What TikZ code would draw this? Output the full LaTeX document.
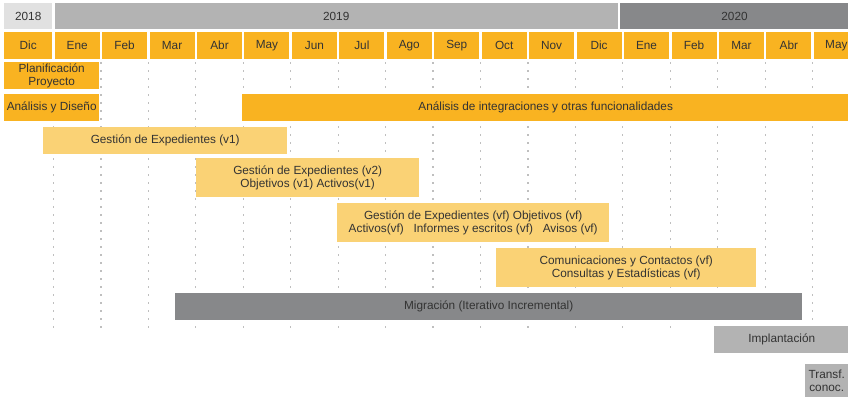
\documentclass[tikz,border=0pt]{standalone}
\usepackage{fontspec}
\setmainfont{Liberation Sans}
\usetikzlibrary{positioning}

\definecolor{naranja}{HTML}{F9B321}
\definecolor{naranjaclaro}{HTML}{FAD275}
\definecolor{grisoscuro}{HTML}{87888A}
\definecolor{grismedio}{HTML}{B3B3B3}
\definecolor{grisclaro}{HTML}{E1E1E1}
\definecolor{texto}{HTML}{333333}

\tikzset{
  celda/.style={inner sep=0pt, text=texto, minimum height=#1pt, anchor=north west,
    font=\fontsize{11.8}{12.6}\selectfont, align=center},
  celda/.default=27,
  mes/.style={celda, fill=naranja, minimum width=45pt},
  ancho/.style={minimum width=#1pt},
  punteado/.style={gray!50, line width=1.2pt, dash pattern=on 1.2pt off 6.8pt},
}

\begin{document}
\begin{tikzpicture}[x=1pt, y=-1pt]
    \useasboundingbox (0,0) rectangle (848,396);
    \clip (0,0) rectangle (848,396);
    %% meses
    \node[mes, ancho=48] (m0) at (4,32) {Dic};
    \foreach \mes [count=\i, remember=\i as \j (initially 0)] in
      {Ene,Feb,Mar,Abr,May,Jun,Jul,Ago,Sep,Oct,Nov,Dic,Ene,Feb,Mar,Abr,May}
      \node[mes, right=2.05pt of m\j] (m\i) {\mes};
    %% años
    \node[celda=26, fill=grisclaro, ancho=48] (a2018) at (4,3) {2018};
    \node[celda=26, fill=grismedio, ancho=562.6] (a2019) at (54.7,3) {2019};
    \node[celda=26, fill=grisoscuro, ancho=230] (a2020) at (619.3,3) {2020};
    % lineas de puntos entre meses
    \foreach \i in {1,...,17}
      \draw[punteado] ([xshift=-1pt, yshift=-3pt]m\i.south west) -- ++(0,268);
    %% tareas
    \node[celda, fill=naranja, ancho=95] (plan) at (4,62) {Planificación\\Proyecto};
    \node[celda, fill=naranja, ancho=95] (diseno) at (4,94) {Análisis y Diseño};
    \node[celda, fill=naranja, ancho=607] (integ) at (242,94)
      {Análisis de integraciones y otras funcionalidades};
    \node[celda, fill=naranjaclaro, ancho=244] (gev1) at (43,127)
      {Gestión de Expedientes (v1)};
    \node[celda=39, fill=naranjaclaro, ancho=223] (gev2) at (196,158)
      {Gestión de Expedientes (v2)\\Objetivos (v1) Activos(v1)};
    \node[celda=39, fill=naranjaclaro, ancho=272] (gevf) at (337,203)
      {Gestión de Expedientes (vf) Objetivos (vf)\\Activos(vf)\ \ \ Informes y escritos (vf)\ \ \ Avisos (vf)};
    \node[celda=39, fill=naranjaclaro, ancho=260] (comu) at (496,248)
      {Comunicaciones y Contactos (vf)\\Consultas y Estadísticas (vf)};
    \node[celda, fill=grisoscuro, ancho=627] (migra) at (175,293)
      {Migración (Iterativo Incremental)};
    \node[celda, fill=grismedio, ancho=135] (impl) at (714,326) {Implantación};
    \node[celda=33, fill=grismedio, ancho=43] (transf) at (805,364) {Transf.\\conoc.};
\end{tikzpicture}
\end{document}
